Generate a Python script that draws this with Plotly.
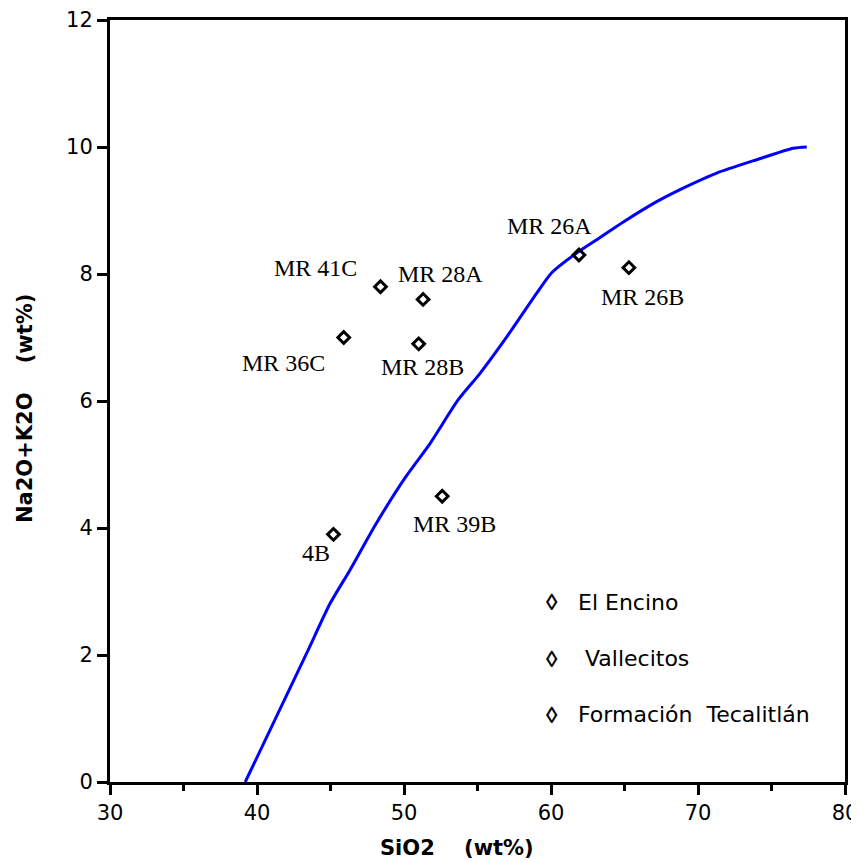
import plotly.graph_objects as go

# Sample points
sample_names = ["4B", "MR 36C", "MR 41C", "MR 28A", "MR 28B", "MR 39B", "MR 26A", "MR 26B"]
sio2 = [45.2, 45.9, 48.4, 51.3, 51.0, 52.6, 61.9, 65.3]
alkali = [3.9, 7.0, 7.8, 7.6, 6.9, 4.5, 8.3, 8.1]
# label offsets in pixels (dx right, dy down) relative to the marker
label_dx = [-17, -60, -65, 17, 4, 12, -29, 14]
label_dy = [19, 25, -19, -25, 23, 28, -29, 29]

# Alkaline / subalkaline dividing curve
curve_x = [39.2, 43.38, 44.97, 46.33, 48.03, 50.07, 51.77, 53.69, 55.12, 56.99, 59.03,
           60.05, 61.86, 63.11, 64.92, 67.19, 68.78, 71.27, 73.99, 76.48, 77.4]
curve_y = [0.0, 2.03, 2.81, 3.34, 4.04, 4.79, 5.33, 6.02, 6.42, 7.01, 7.70,
           8.02, 8.35, 8.54, 8.82, 9.14, 9.33, 9.59, 9.80, 9.98, 10.0]

legend_labels = ["El Encino", " Vallecitos", "Formación  Tecalitlán"]
legend_y = [2.83, 1.94, 1.06]

fig = go.Figure()
fig.add_trace(go.Scatter(x=curve_x, y=curve_y, mode="lines",
                         line=dict(color="#0000ff", width=3, shape="spline", smoothing=0.6),
                         showlegend=False, hoverinfo="skip"))
fig.add_trace(go.Scatter(x=sio2, y=alkali, mode="markers",
                         marker=dict(symbol="diamond-open", size=9, color="black",
                                     line=dict(width=3, color="black")),
                         showlegend=False))

for name, x, y, dx, dy in zip(sample_names, sio2, alkali, label_dx, label_dy):
    fig.add_annotation(x=x, y=y, text=name, showarrow=False, xshift=dx, yshift=-dy,
                       font=dict(family="Liberation Serif, Times New Roman, serif",
                                 size=24, color="black"))

for t, y in zip(legend_labels, legend_y):
    fig.add_annotation(x=60.07, y=y, text="<b>◊</b>", showarrow=False, xanchor="center",
                       font=dict(family="Liberation Sans, Arial", size=23, color="black"))
    fig.add_annotation(x=61.7, y=y, text=t, showarrow=False, xanchor="left",
                       font=dict(family="DejaVu Sans", size=22, color="black"))

# axis titles
fig.add_annotation(xref="paper", yref="paper", x=0.472, y=-0.0866, text="<b>SiO2    (wt%)</b>",
                   showarrow=False, xanchor="center", yanchor="middle",
                   font=dict(family="DejaVu Sans", size=21, color="black"))
fig.add_annotation(xref="paper", yref="paper", x=-0.1156, y=0.4895,
                   text="<b>Na2O+K2O    (wt%)</b>", textangle=-90,
                   showarrow=False, xanchor="center", yanchor="middle",
                   font=dict(family="DejaVu Sans", size=21, color="black"))

# page body has an 8px default margin, so size/offset the figure to compensate
fig.update_layout(
    width=851, height=853,
    margin=dict(l=102, r=14, t=12, b=79),
    paper_bgcolor="white", plot_bgcolor="white",
    font=dict(family="DejaVu Sans", size=21, color="black"),
    xaxis=dict(range=[30, 80], tickvals=[30, 40, 50, 60, 70, 80], automargin=False,
               ticks="outside", ticklen=10, tickwidth=3, tickcolor="black",
               tickfont=dict(family="DejaVu Sans", size=21, color="black"),
               minor=dict(tickvals=[35, 45, 55, 65, 75], ticks="outside", ticklen=6,
                          tickwidth=3, tickcolor="black"),
               showline=True, linewidth=3, linecolor="black", mirror=True,
               showgrid=False, zeroline=False),
    yaxis=dict(range=[0, 12], tickvals=[0, 2, 4, 6, 8, 10, 12], automargin=False,
               ticks="outside", ticklen=10, tickwidth=3, tickcolor="black",
               tickfont=dict(family="DejaVu Sans", size=21, color="black"),
               showline=True, linewidth=3, linecolor="black", mirror=True,
               showgrid=False, zeroline=False),
)

fig.write_html("out.html")
